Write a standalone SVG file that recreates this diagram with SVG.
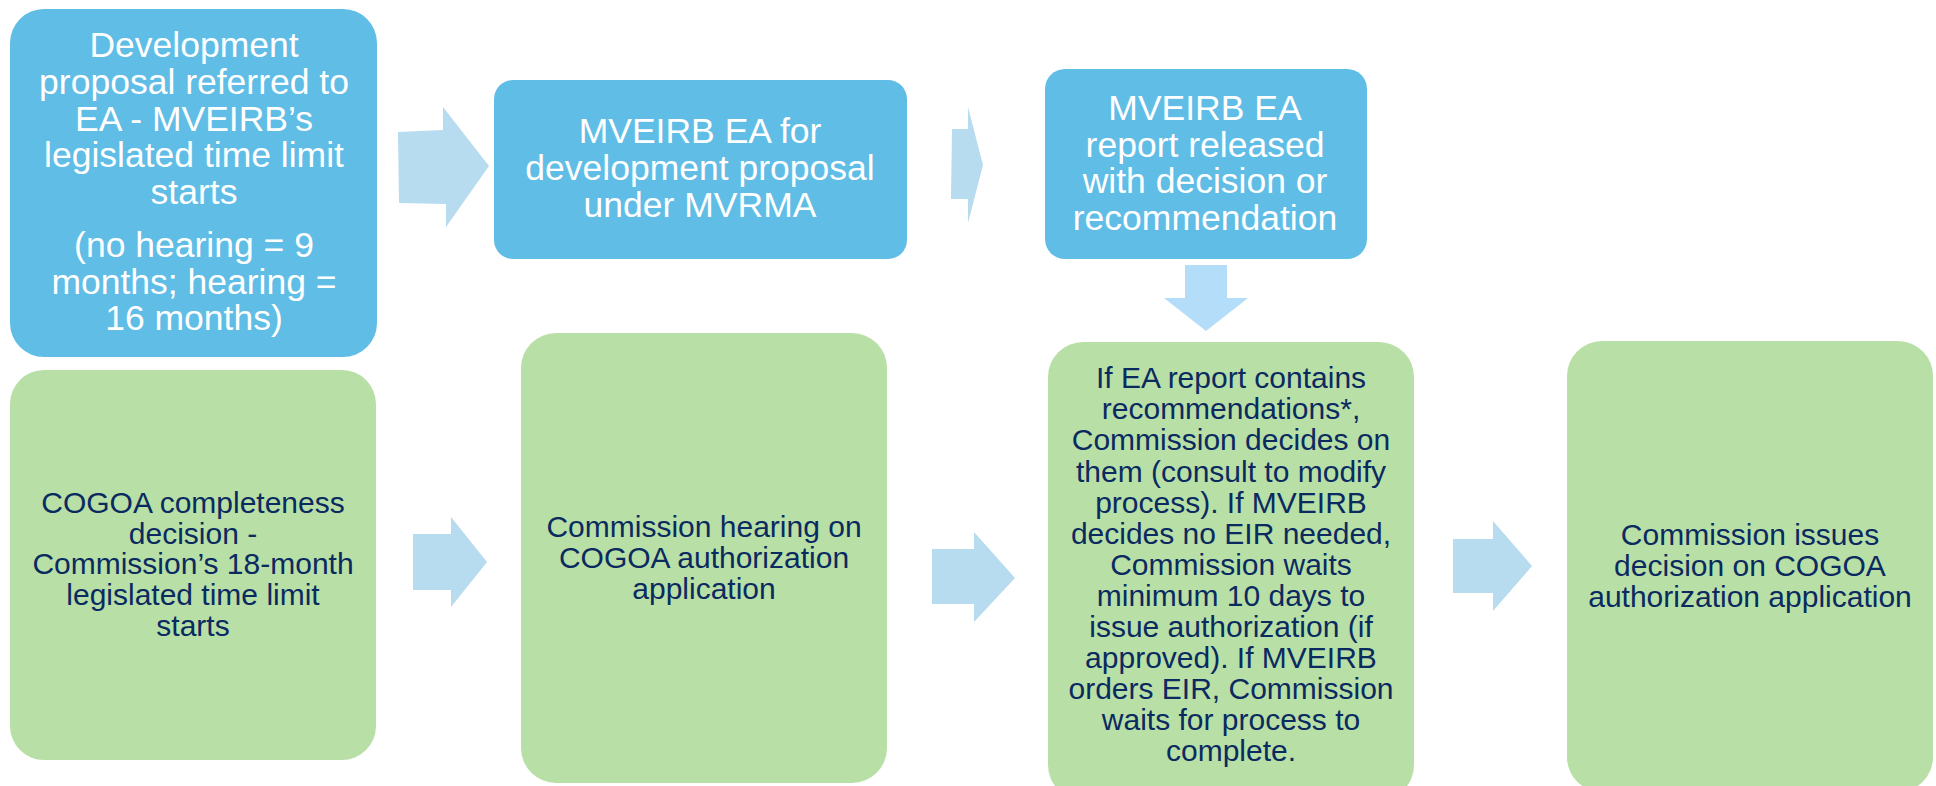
<svg xmlns="http://www.w3.org/2000/svg" width="1936" height="786" viewBox="0 0 1936 786">
<style>
.blue{fill:#5FBDE6}
.green{fill:#B8DFA6}
.arr{fill:#B7DBEF}
.arrd{fill:#B3DDF8}
.tw{font-family:"Liberation Sans",Arial,sans-serif;font-size:35.5px;fill:#FFFFFF;text-anchor:middle}
.tn{font-family:"Liberation Sans",Arial,sans-serif;font-size:30px;fill:#0A2A60;text-anchor:middle}
</style>
<rect width="1936" height="786" fill="#FFFFFF"/>
<g id="connectors">
<polygon class="arr" points="398,132 443,130 443,107 489,166 446,227 446,204 399,203"/>
<polygon class="arr" points="862,129 878,129 878,107 893,165 878,223 878,199 861,199" transform="translate(90,0)"/>
<polygon class="arrd" points="1185,265 1227,265 1227,298 1248,298 1206,331 1164,298 1185,298"/>
<polygon class="arr" points="413,534 451,534 451,517 487,562 451,607 451,590 413,590"/>
<polygon class="arr" points="932,549 974,549 974,532 1015,578 974,622 974,604 932,604"/>
<polygon class="arr" points="1453,539 1493,539 1493,521 1532,566 1493,611 1493,593 1453,593"/>
</g>
<g id="n1">
<rect class="blue" x="10" y="9" width="367" height="348" rx="34"/>
<text class="tw"><tspan x="194" y="57">Development</tspan><tspan x="194" y="93.5">proposal referred to</tspan><tspan x="194" y="130.5">EA - MVEIRB’s</tspan><tspan x="194" y="167">legislated time limit</tspan><tspan x="194" y="203.5">starts</tspan><tspan x="194" y="257">(no hearing = 9</tspan><tspan x="194" y="293.5">months; hearing =</tspan><tspan x="194" y="330">16 months)</tspan></text>
</g>
<g id="n2">
<rect class="blue" x="494" y="80" width="413" height="179" rx="19"/>
<text class="tw"><tspan x="700" y="143">MVEIRB EA for</tspan><tspan x="700" y="180">development proposal</tspan><tspan x="700" y="217">under MVRMA</tspan></text>
</g>
<g id="n3">
<rect class="blue" x="1045" y="69" width="322" height="190" rx="20"/>
<text class="tw"><tspan x="1205" y="120">MVEIRB EA</tspan><tspan x="1205" y="156.5">report released</tspan><tspan x="1205" y="193">with decision or</tspan><tspan x="1205" y="229.5">recommendation</tspan></text>
</g>
<g id="n4">
<rect class="green" x="10" y="370" width="366" height="390" rx="34"/>
<text class="tn"><tspan x="193" y="513">COGOA completeness</tspan><tspan x="193" y="543.5">decision -</tspan><tspan x="193" y="574">Commission’s 18-month</tspan><tspan x="193" y="605">legislated time limit</tspan><tspan x="193" y="636">starts</tspan></text>
</g>
<g id="n5">
<rect class="green" x="521" y="333" width="366" height="450" rx="35"/>
<text class="tn"><tspan x="704" y="537">Commission hearing on</tspan><tspan x="704" y="568">COGOA authorization</tspan><tspan x="704" y="598.5">application</tspan></text>
</g>
<g id="n6">
<rect class="green" x="1048" y="342" width="366" height="458" rx="35"/>
<text class="tn"><tspan x="1231" y="388.3">If EA report contains</tspan><tspan x="1231" y="419.4">recommendations*,</tspan><tspan x="1231" y="450.4">Commission decides on</tspan><tspan x="1231" y="481.5">them (consult to modify</tspan><tspan x="1231" y="512.5">process). If MVEIRB</tspan><tspan x="1231" y="543.6">decides no EIR needed,</tspan><tspan x="1231" y="574.6">Commission waits</tspan><tspan x="1231" y="605.7">minimum 10 days to</tspan><tspan x="1231" y="636.7">issue authorization (if</tspan><tspan x="1231" y="667.8">approved). If MVEIRB</tspan><tspan x="1231" y="698.8">orders EIR, Commission</tspan><tspan x="1231" y="729.9">waits for process to</tspan><tspan x="1231" y="760.9">complete.</tspan></text>
</g>
<g id="n7">
<rect class="green" x="1567" y="341" width="366" height="451" rx="35"/>
<text class="tn"><tspan x="1750" y="545">Commission issues</tspan><tspan x="1750" y="576">decision on COGOA</tspan><tspan x="1750" y="607">authorization application</tspan></text>
</g>
</svg>
